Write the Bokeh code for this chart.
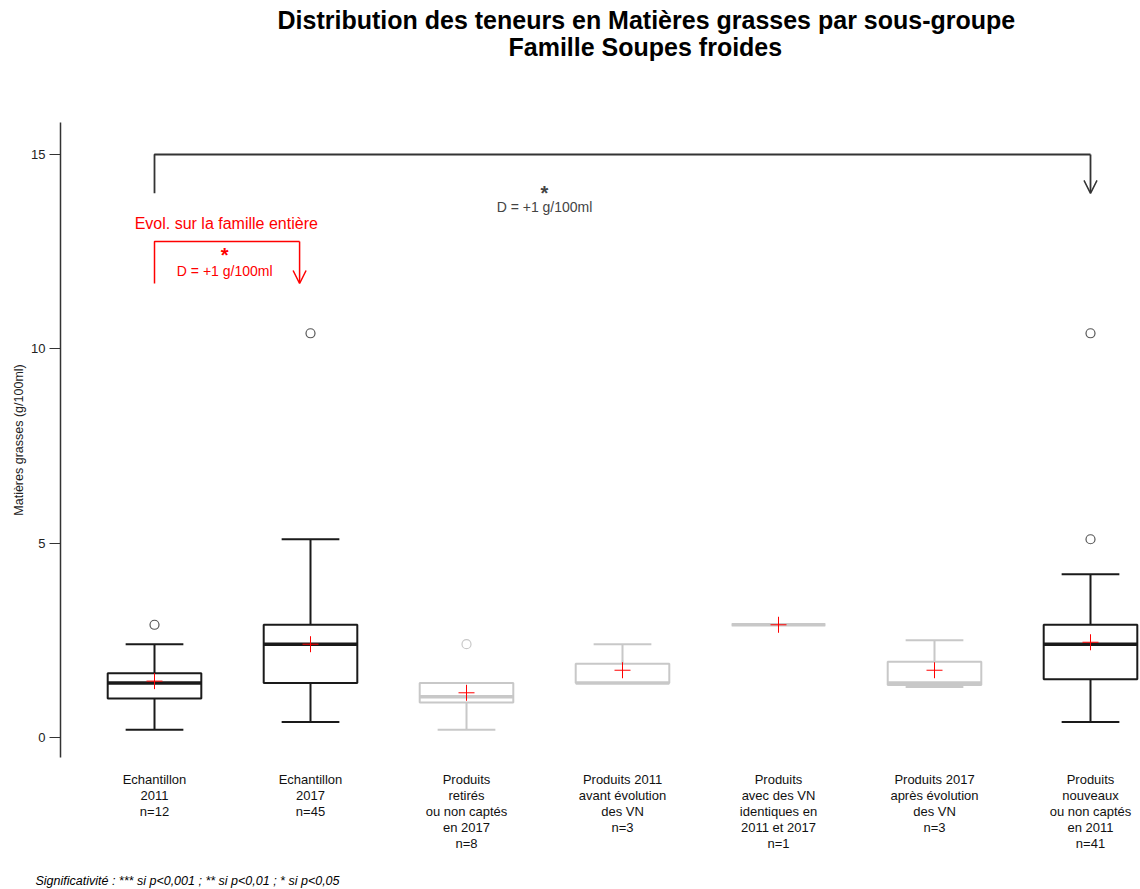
from bokeh.plotting import figure
from bokeh.models import (Range1d, LinearAxis, FixedTicker, Label, Arrow, OpenHead,
                          ColumnDataSource, Title)
from bokeh.embed import file_html
from bokeh.resources import INLINE

# ---------------- data ----------------
groups = ["Echantillon\n2011", "Echantillon\n2017", "Produits\nretirés\nou non captés\nen 2017",
          "Produits 2011\navant évolution\ndes VN", "Produits\navec des VN\nidentiques en\n2011 et 2017",
          "Produits 2017\naprès évolution\ndes VN", "Produits\nnouveaux\nou non captés\nen 2011"]
n_obs = [12, 45, 8, 3, 1, 3, 41]
whisk_low = [0.2, 0.4, 0.2, 1.4, 2.9, 1.3, 0.4]
q1 = [1.0, 1.4, 0.9, 1.4, 2.9, 1.35, 1.5]
median = [1.4, 2.4, 1.05, 1.4, 2.9, 1.4, 2.4]
q3 = [1.65, 2.9, 1.4, 1.9, 2.9, 1.95, 2.9]
whisk_high = [2.4, 5.1, 1.4, 2.4, 2.9, 2.5, 4.2]
means = [1.45, 2.4, 1.15, 1.73, 2.9, 1.73, 2.45]
outlier_group = [1, 2, 3, 7, 7]
outlier_value = [2.9, 10.4, 2.4, 5.1, 10.4]
highlight = [True, True, False, False, False, False, True]

title1 = "Distribution des teneurs en Matières grasses par sous-groupe"
title2 = "Famille Soupes froides"
y_label = "Matières grasses (g/100ml)"
footnote = "Significativité : *** si p<0,001 ; ** si p<0,01 ; * si p<0,05"
sig_all = "*"
diff_all = "D = +1 g/100ml"
sig_fam = "*"
diff_fam = "D = +1 g/100ml"
fam_text = "Evol. sur la famille entière"

FONT = "Liberation Sans"
DARK = "#1a1a1a"
GREY = "#c8c8c8"
BRK = "#333333"

xs = list(range(1, len(groups) + 1))
cols = [DARK if h else GREY for h in highlight]
out_cols = ["#555555" if highlight[g - 1] else GREY for g in outlier_group]

p = figure(width=1140, height=889, output_backend="svg", toolbar_location=None,
           x_range=Range1d(0.3974, 7.3205), y_range=Range1d(-0.515, 15.823),
           min_border_left=60, min_border_right=0, min_border_top=122, min_border_bottom=132,
           x_axis_location=None, y_axis_location=None)
p.outline_line_color = None
p.xgrid.visible = False
p.ygrid.visible = False
p.background_fill_color = "white"
p.border_fill_color = "white"

# ---- titles (stacked above the frame; nearest first) ----
p.add_layout(Title(text=" ", text_font_size="13px", standoff=45), "above")
p.add_layout(Title(text=title2, text_font=FONT, text_font_size="25px", text_font_style="bold",
                   text_color="black", align="left", offset=448, standoff=-3,
                   vertical_align="middle"), "above")
p.add_layout(Title(text=title1, text_font=FONT, text_font_size="25px", text_font_style="bold",
                   text_color="black", align="left", offset=217, standoff=-3,
                   vertical_align="middle"), "above")

# y axis
yax = LinearAxis(ticker=FixedTicker(ticks=[0, 5, 10, 15]), axis_label=y_label)
yax.axis_line_color = "#333333"
yax.axis_line_width = 1.5
yax.major_tick_line_color = "#333333"
yax.major_tick_out = 11
yax.major_tick_in = 0
yax.minor_tick_out = 0
yax.minor_tick_in = 0
yax.major_label_text_font = FONT
yax.major_label_text_font_size = "13px"
yax.major_label_text_color = "#222222"
yax.major_label_standoff = 4
yax.axis_label_text_font = FONT
yax.axis_label_text_font_size = "12.5px"
yax.axis_label_text_font_style = "normal"
yax.axis_label_text_color = "#222222"
yax.axis_label_standoff = 2
p.add_layout(yax, "left")

# x axis (labels only)
xlabels = {x: f"{g}\nn={n}" for x, g, n in zip(xs, groups, n_obs)}
xax = LinearAxis(ticker=FixedTicker(ticks=xs), major_label_overrides=xlabels, axis_label=" ")
xax.axis_line_color = None
xax.major_tick_line_color = None
xax.major_tick_out = 0
xax.major_tick_in = 0
xax.minor_tick_line_color = None
xax.minor_tick_out = 0
xax.minor_tick_in = 0
xax.major_label_text_font = FONT
xax.major_label_text_font_size = "13px"
xax.major_label_text_color = "#111111"
xax.major_label_text_line_height = 1.07
xax.major_label_standoff = 14
xax.axis_label_text_font_size = "13px"
xax.axis_label_standoff = 0
p.add_layout(xax, "below")

# footnote
p.add_layout(Title(text=footnote, text_font=FONT, text_font_size="12.5px", text_font_style="italic",
                   text_color="black", align="left", offset=-25, standoff=0,
                   vertical_align="bottom"), "below")

# boxes
src = ColumnDataSource(dict(x=xs, lo=whisk_low, q1=q1, med=median, q3=q3, hi=whisk_high,
                            mean=means, col=cols,
                            cap0=[x - 0.185 for x in xs], cap1=[x + 0.185 for x in xs],
                            b0=[x - 0.3 for x in xs], b1=[x + 0.3 for x in xs]))
p.segment(x0="x", y0="q3", x1="x", y1="hi", line_color="col", line_width=2, source=src)
p.segment(x0="x", y0="q1", x1="x", y1="lo", line_color="col", line_width=2, source=src)
p.segment(x0="cap0", y0="hi", x1="cap1", y1="hi", line_color="col", line_width=2, source=src)
p.segment(x0="cap0", y0="lo", x1="cap1", y1="lo", line_color="col", line_width=2, source=src)
p.vbar(x="x", width=0.6, bottom="q1", top="q3", fill_color="white", line_color="col",
       line_width=2, source=src)
p.segment(x0="b0", y0="med", x1="b1", y1="med", line_color="col", line_width=3.5, source=src)
p.scatter(x="x", y="mean", marker="cross", size=16, line_color="red", line_width=1, source=src)

p.scatter(x=outlier_group, y=outlier_value, marker="circle", size=9, fill_color=None,
          line_color=out_cols, line_width=1.2)

# black bracket: group 1 vs group 7
g_a, g_b = 1, 7
y_top, y_bot = 15, 14
p.line(x=[g_a, g_a, g_b], y=[y_bot, y_top, y_top], line_color=BRK, line_width=1.8)
p.add_layout(Arrow(end=OpenHead(size=13, line_color=BRK, line_width=1.5),
                   x_start=g_b, y_start=y_top, x_end=g_b, y_end=y_bot,
                   line_color=BRK, line_width=1.8))
p.add_layout(Label(x=3.5, y=14.0, text=sig_all, text_font=FONT, text_font_size="20px",
                   text_font_style="bold", text_align="center", text_baseline="middle"))
p.add_layout(Label(x=3.5, y=13.66, text=diff_all, text_font=FONT, text_font_size="14px",
                   text_align="center", text_baseline="middle"))

# red bracket (famille entière)
fr_a, fr_b = 1, 1.93
fy_top, fy_bot = 12.76, 11.68
p.line(x=[fr_a, fr_a, fr_b], y=[fy_bot, fy_top, fy_top], line_color="red", line_width=1.5)
p.add_layout(Arrow(end=OpenHead(size=13, line_color="red", line_width=1.5),
                   x_start=fr_b, y_start=fy_top, x_end=fr_b, y_end=fy_bot,
                   line_color="red", line_width=1.5))
p.add_layout(Label(x=1.46, y=13.22, text=fam_text, text_font=FONT, text_font_size="16px",
                   text_color="red", text_align="center", text_baseline="middle"))
p.add_layout(Label(x=1.45, y=12.42, text=sig_fam, text_font=FONT, text_font_size="20px",
                   text_font_style="bold", text_color="red", text_align="center",
                   text_baseline="middle"))
p.add_layout(Label(x=1.45, y=12.01, text=diff_fam, text_font=FONT, text_font_size="14px",
                   text_color="red", text_align="center", text_baseline="middle"))

open("out.html", "w").write(file_html(p, INLINE))
